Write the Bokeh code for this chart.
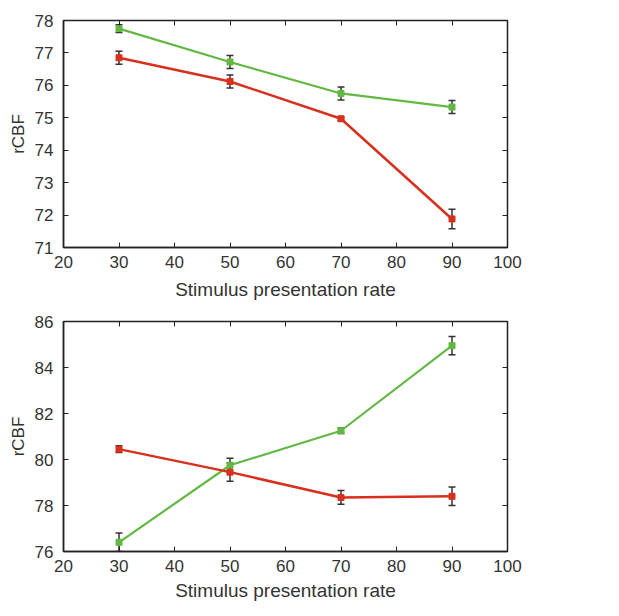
from bokeh.plotting import figure
from bokeh.layouts import column
from bokeh.models import ColumnDataSource, Whisker, TeeHead, LinearAxis, FixedTicker, Range1d
from bokeh.embed import file_html
from bokeh.resources import INLINE

rates = [30, 50, 70, 90]

top_green = [77.75, 76.72, 75.75, 75.33]
top_green_err = [0.12, 0.2, 0.2, 0.2]
top_red = [76.85, 76.12, 74.97, 71.88]
top_red_err = [0.2, 0.2, 0.05, 0.3]

bot_green = [76.4, 79.75, 81.25, 84.95]
bot_green_err = [0.4, 0.3, 0.12, 0.4]
bot_red = [80.45, 79.45, 78.35, 78.4]
bot_red_err = [0.15, 0.4, 0.3, 0.4]

x_ticks = [20, 30, 40, 50, 60, 70, 80, 90, 100]
top_y_ticks = [71, 72, 73, 74, 75, 76, 77, 78]
bot_y_ticks = [76, 78, 80, 82, 84, 86]

GREEN = "#62b843"
RED = "#d9301e"
FONT = "Liberation Sans"


def make_panel(series, y_range, y_ticks, height, border_top, border_bottom, label_standoff):
    p = figure(width=537, height=height, x_range=Range1d(20, 100), y_range=Range1d(*y_range),
               output_backend="svg", toolbar_location=None,
               min_border_left=63, min_border_right=30,
               min_border_top=border_top, min_border_bottom=border_bottom)
    p.xgrid.visible = False
    p.ygrid.visible = False
    p.outline_line_color = "#222222"
    p.outline_line_width = 1.5
    p.background_fill_color = "white"
    p.border_fill_color = "white"

    p.xaxis.ticker = FixedTicker(ticks=x_ticks)
    p.yaxis.ticker = FixedTicker(ticks=y_ticks)
    p.xaxis.axis_label = "Stimulus presentation rate"
    p.yaxis.axis_label = "rCBF"
    for ax in (p.xaxis[0], p.yaxis[0]):
        ax.axis_line_color = "#222222"
        ax.axis_line_width = 1.5
        ax.major_tick_in = 5
        ax.major_tick_out = 0
        ax.minor_tick_line_color = None
        ax.major_tick_line_color = "#222222"
        ax.major_label_text_font = FONT
        ax.major_label_text_font_size = "17px"
        ax.major_label_text_color = "#333333"
        ax.axis_label_text_font = FONT
        ax.axis_label_text_font_style = "normal"
        ax.axis_label_text_color = "#333333"
    p.xaxis.axis_label_text_font_size = "19px"
    p.yaxis.axis_label_text_font_size = "17px"
    p.xaxis.axis_label_standoff = label_standoff
    p.yaxis.axis_label_standoff = 4
    p.xaxis.major_label_standoff = 8
    p.yaxis.major_label_standoff = 10

    top_ax = LinearAxis(ticker=FixedTicker(ticks=x_ticks),
                        major_label_overrides={t: "" for t in x_ticks},
                        major_label_standoff=0,
                        major_tick_in=5, major_tick_out=0, minor_tick_line_color=None,
                        axis_line_color=None, major_tick_line_color="#222222")
    right_ax = LinearAxis(ticker=FixedTicker(ticks=y_ticks),
                          major_label_overrides={t: "" for t in y_ticks},
                          major_label_standoff=0,
                          major_tick_in=5, major_tick_out=0, minor_tick_line_color=None,
                          axis_line_color=None, major_tick_line_color="#222222")
    p.add_layout(top_ax, "above")
    p.add_layout(right_ax, "right")

    for vals, errs, color, lw in series:
        src = ColumnDataSource(dict(
            x=rates, y=vals,
            lo=[v - e for v, e in zip(vals, errs)],
            hi=[v + e for v, e in zip(vals, errs)],
        ))
        p.line("x", "y", source=src, line_color=color, line_width=lw)
        p.add_layout(Whisker(source=src, base="x", lower="lo", upper="hi",
                             line_color="#333333", line_width=1.5,
                             upper_head=TeeHead(size=7, line_color="#333333", line_width=1.5),
                             lower_head=TeeHead(size=7, line_color="#333333", line_width=1.5)))
        p.scatter("x", "y", source=src, marker="square", size=6, fill_color=color,
                  line_color=color)
    return p


p1 = make_panel([(top_green, top_green_err, GREEN, 2.2), (top_red, top_red_err, RED, 2.5)],
                (71, 78), top_y_ticks, 308, 20, 61, 8)
p2 = make_panel([(bot_green, bot_green_err, GREEN, 2.2), (bot_red, bot_red_err, RED, 2.5)],
                (76, 86), bot_y_ticks, 300, 13, 57, 5)

layout = column(p1, p2, spacing=0)
open("out.html", "w").write(file_html(layout, INLINE))
